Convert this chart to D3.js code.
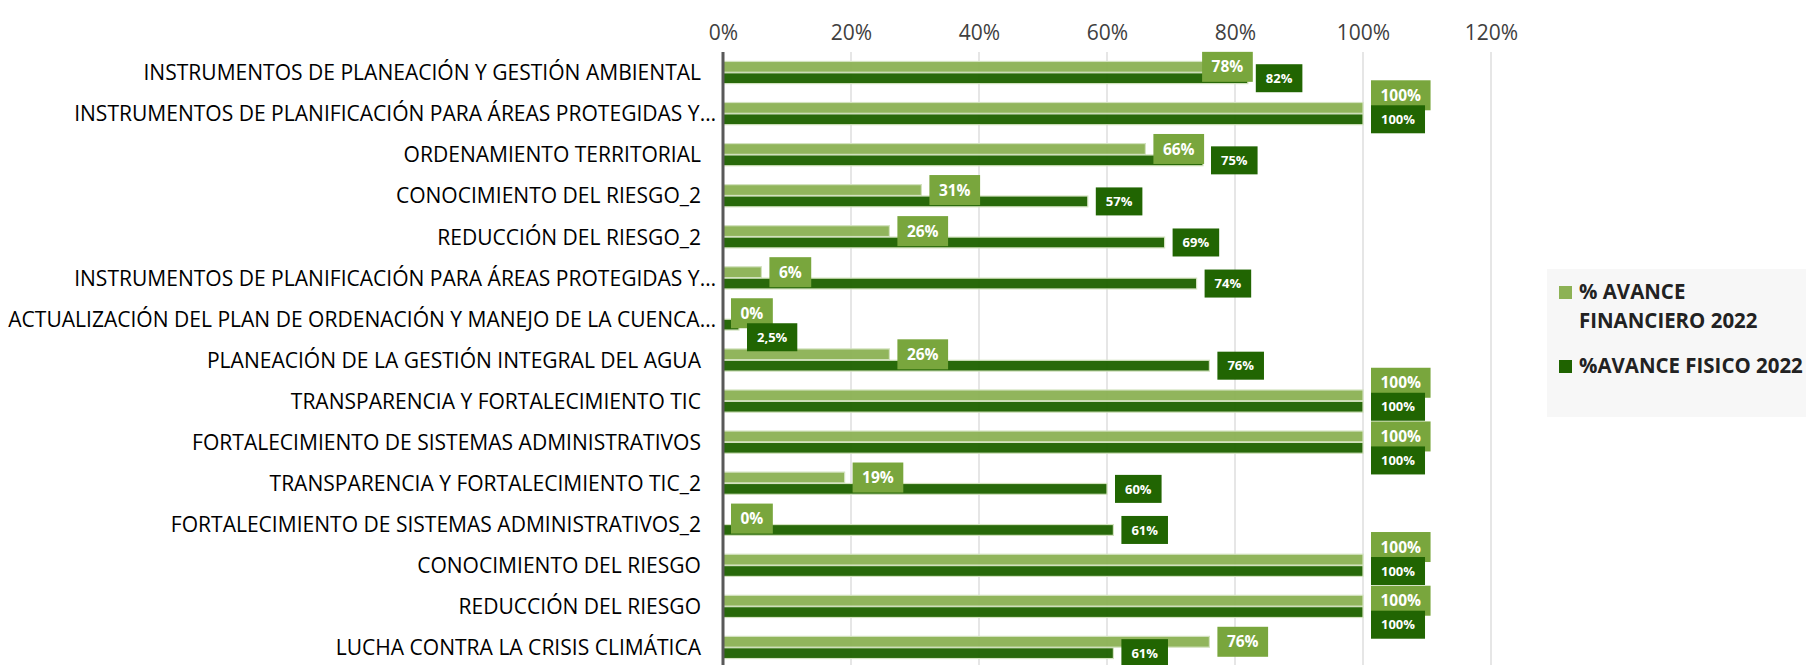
<!DOCTYPE html>
<html>
<head>
<meta charset="utf-8">
<script src="https://cdn.jsdelivr.net/npm/d3@7"></script>
<style>
  html, body { margin: 0; padding: 0; background: #fff; }
  svg { display: block; }
  text { font-family: "Open Sans", "Liberation Sans", sans-serif; }
</style>
</head>
<body>
<script>
// datos del grafico
var categorias = [
  "INSTRUMENTOS DE PLANEACIÓN Y GESTIÓN AMBIENTAL",
  "INSTRUMENTOS DE PLANIFICACIÓN PARA ÁREAS PROTEGIDAS Y…",
  "ORDENAMIENTO TERRITORIAL",
  "CONOCIMIENTO DEL RIESGO_2",
  "REDUCCIÓN DEL RIESGO_2",
  "INSTRUMENTOS DE PLANIFICACIÓN PARA ÁREAS PROTEGIDAS Y…",
  "ACTUALIZACIÓN DEL PLAN DE ORDENACIÓN Y MANEJO DE LA CUENCA…",
  "PLANEACIÓN DE LA GESTIÓN INTEGRAL DEL AGUA",
  "TRANSPARENCIA Y FORTALECIMIENTO TIC",
  "FORTALECIMIENTO DE SISTEMAS ADMINISTRATIVOS",
  "TRANSPARENCIA Y FORTALECIMIENTO TIC_2",
  "FORTALECIMIENTO DE SISTEMAS ADMINISTRATIVOS_2",
  "CONOCIMIENTO DEL RIESGO",
  "REDUCCIÓN DEL RIESGO",
  "LUCHA CONTRA LA CRISIS CLIMÁTICA"
];
var avanceFinanciero = [0.78, 1.00, 0.66, 0.31, 0.26, 0.06, 0.00, 0.26, 1.00, 1.00, 0.19, 0.00, 1.00, 1.00, 0.76];
var avanceFisico     = [0.82, 1.00, 0.75, 0.57, 0.69, 0.74, 0.025, 0.76, 1.00, 1.00, 0.60, 0.61, 1.00, 1.00, 0.61];
var leyenda = [["% AVANCE", "FINANCIERO 2022"], ["%AVANCE FISICO 2022"]];
var ticks = [0, 0.2, 0.4, 0.6, 0.8, 1.0, 1.2];

(function(){
  var W = 1806, H = 665;
  var colores = { fin: "#8db255", fis: "#1f6300", finBox: "#79a63d", fisBox: "#216502" };

  var svg = d3.select("body").append("svg").attr("width", W).attr("height", H);

  var x = d3.scaleLinear().domain([0, 1.2]).range([723, 1491]);
  var y = d3.scaleBand().domain(d3.range(categorias.length)).range([52, 668])
            .paddingInner(0.46).paddingOuter(0.23);
  var sub = d3.scaleBand().domain(["fin", "fis"]).range([0, y.bandwidth()]).paddingInner(0.05);

  var loc = d3.formatLocale({ decimal: ",", thousands: ".", grouping: [3], currency: ["", ""] });
  var fmt = loc.format("~%");

  // rejilla
  svg.append("g").selectAll("line").data(ticks.slice(1)).enter().append("line")
    .attr("x1", function(d){ return x(d); }).attr("x2", function(d){ return x(d); })
    .attr("y1", 52).attr("y2", H)
    .attr("stroke", "#d9d9d9").attr("stroke-width", 1.3);

  // eje superior
  var ax = svg.append("g").attr("transform", "translate(0,40)")
    .call(d3.axisTop(x).tickValues(ticks).tickFormat(d3.format(".0%")).tickSize(0).tickPadding(0));
  ax.select(".domain").remove();
  ax.selectAll("text").attr("font-size", 21).attr("fill", "#404040")
    .attr("font-family", "Open Sans, sans-serif");

  // barras
  var filas = categorias.map(function(c, i){ return { i: i, fin: avanceFinanciero[i], fis: avanceFisico[i] }; });
  var g = svg.append("g");
  ["fin", "fis"].forEach(function(k){
    g.selectAll("rect." + k).data(filas).enter().append("rect").attr("class", k)
      .attr("x", x(0))
      .attr("y", function(d){ return y(d.i) + sub(k); })
      .attr("width", function(d){ return Math.max(0, x(d[k]) - x(0)); })
      .attr("height", sub.bandwidth())
      .attr("fill", colores[k]).attr("fill-opacity", 0.96)
      .attr("stroke", "#d3e2bf").attr("stroke-width", 1.2);
  });

  // eje vertical en 0
  svg.append("line").attr("x1", x(0)).attr("x2", x(0)).attr("y1", 52).attr("y2", H)
    .attr("stroke", "#595959").attr("stroke-width", 3);

  // categorias (Open Sans un poco estrecha, como Calibri)
  svg.append("g").selectAll("g").data(categorias).enter().append("g")
    .attr("transform", function(d, i){
      var px = /…$/.test(d) ? 716 : 701;
      return "translate(" + px + "," + (y(i) + y.bandwidth() / 2) + ") scale(0.957,1)";
    })
    .append("text")
    .attr("dy", "0.35em").attr("text-anchor", "end")
    .attr("font-size", 22).attr("fill", "#000")
    .text(function(d){ return d; });

  // etiquetas de datos
  var capaFin = svg.append("g"), capaFis = svg.append("g");
  function caja(k, d, capa, size, padX, h){
    var gg = capa.append("g");
    var r = gg.append("rect").attr("fill", colores[k + "Box"]);
    var t = gg.append("text").attr("font-size", size).attr("font-weight", "bold")
      .attr("fill", "#fff").attr("text-anchor", "middle").attr("dy", "0.36em")
      .text(fmt(d[k]));
    var w = t.node().getComputedTextLength() + padX * 2;
    var cy = y(d.i) + sub(k) + sub.bandwidth() / 2;
    return { r: r, t: t, x: x(d[k]) + 8, cy: cy, w: w, h: h };
  }
  function choca(p, q, m){
    return p.x < q.x + q.w - m && q.x < p.x + p.w - m &&
           (p.cy - p.h / 2) < (q.cy + q.h / 2) - m && (q.cy - q.h / 2) < (p.cy + p.h / 2) - m;
  }
  function pon(b){
    b.r.attr("x", b.x).attr("y", b.cy - b.h / 2).attr("width", b.w).attr("height", b.h);
    b.t.attr("x", b.x + b.w / 2).attr("y", b.cy);
  }
  var puestas = [];
  filas.forEach(function(d){
    var a = caja("fin", d, capaFin, 15.5, 9.5, 30);
    var b = caja("fis", d, capaFis, 13, 10, 28);
    if (choca(a, b, 0)) {
      var oy = (a.cy + a.h / 2) - (b.cy - b.h / 2) - 5;
      var nx = b.x - a.w - 3;
      if (d.fis > d.fin && nx > x(0) + 4) {
        a.x = nx;
      } else {
        var prueba = { x: a.x, w: a.w, h: a.h, cy: a.cy - oy };
        var libre = puestas.every(function(p){ return !choca(prueba, p, -2); });
        if (libre) a.cy -= oy; else b.cy += oy;
      }
    }
    pon(a); pon(b);
    puestas.push(a, b);
  });

  // leyenda
  var ley = svg.append("g");
  ley.append("rect").attr("x", 1547).attr("y", 269).attr("width", W - 1547).attr("height", 148)
    .attr("fill", "#f2f2f2").attr("fill-opacity", 0.6);
  var itemY = [299, 373];
  ["fin", "fis"].forEach(function(k, j){
    ley.append("rect").attr("x", 1559).attr("y", itemY[j] - 13).attr("width", 13).attr("height", 13)
      .attr("fill", colores[k]);
    var t = ley.append("g").attr("transform", "translate(1579," + itemY[j] + ") scale(0.93,1)")
      .append("text").attr("font-size", 22).attr("font-weight", "bold").attr("fill", "#222");
    leyenda[j].forEach(function(l, n){
      t.append("tspan").attr("x", 0).attr("y", n * 29).text(l);
    });
  });
})();
</script>
</body>
</html>
